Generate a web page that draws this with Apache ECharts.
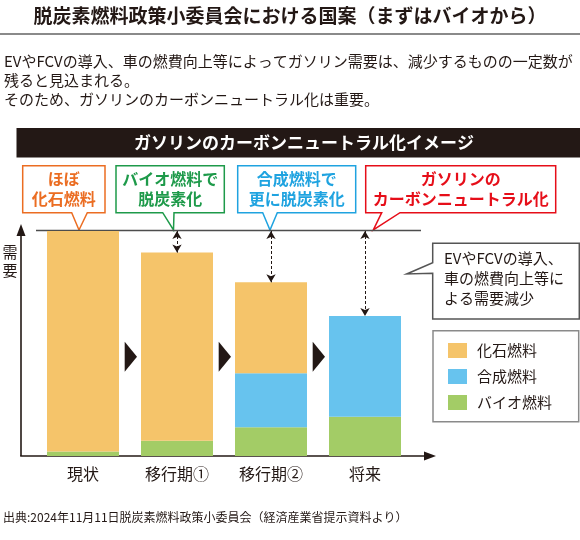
<!DOCTYPE html>
<html>
<head>
<meta charset="utf-8">
<script src="https://cdn.jsdelivr.net/npm/echarts@6/dist/echarts.min.js"></script>
<style>html,body{margin:0;padding:0;background:#fff;}#c{width:580px;height:540px;}</style>
</head>
<body>
<div id="c"></div>
<script>
const categories = ['現状', '移行期①', '移行期②', '将来'];
const fossil = [98, 83.6, 40.4, 0];
const synthetic = [0, 0, 24, 44.7];
const bio = [2, 6.8, 12.8, 17.5];
const seriesNames = ['化石燃料', '合成燃料', 'バイオ燃料'];
const yMax = 100;

const F = '"Noto Sans CJK JP", "Noto Sans", sans-serif';
const DARK = '#231815';
const totals = categories.map((c, i) => fossil[i] + synthetic[i] + bio[i]);

const chart = echarts.init(document.getElementById('c'));
chart.setOption({
  animation: false,
  grid: { left: 36, top: 231, width: 376, height: 225 },
  xAxis: {
    type: 'category', data: categories,
    axisLine: { show: false }, axisTick: { show: false },
    axisLabel: { fontSize: 16, color: DARK, margin: 10, fontFamily: F }
  },
  yAxis: { type: 'value', min: 0, max: yMax, show: false, splitLine: { show: false } },
  legend: {
    data: seriesNames, orient: 'vertical', left: 448, top: 343, padding: 0,
    itemWidth: 19, itemHeight: 15, itemGap: 11, icon: 'rect', selectedMode: false,
    textStyle: { fontSize: 15, color: DARK, fontFamily: F, padding: [0, 0, 0, 5] }
  },
  series: [
    { name: seriesNames[2], type: 'bar', stack: 'a', data: bio, barWidth: 72, itemStyle: { color: '#a3cc66' } },
    { name: seriesNames[1], type: 'bar', stack: 'a', data: synthetic, barWidth: 72, itemStyle: { color: '#67c3ee' } },
    { name: seriesNames[0], type: 'bar', stack: 'a', data: fossil, barWidth: 72, itemStyle: { color: '#f5c46a' },
      markLine: {
        silent: true, symbol: ['arrow', 'arrow'], symbolSize: [7, 8],
        label: { show: false },
        lineStyle: { color: DARK, type: [3, 2], width: 1 },
        data: categories.slice(1).map((c, k) => [
          { coord: [c, yMax] }, { coord: [c, totals[k + 1]] }
        ])
      }
    }
  ]
});

const px = (c, v) => chart.convertToPixel({ gridIndex: 0 }, [c, v]);
const base = px(categories[0], 0)[1];
const topY = px(categories[0], yMax)[1];
const g = [];

function txt(x, y, text, size, color, weight, align) {
  g.push({ type: 'text', silent: true, style: { x: x, y: y, text: text, fontSize: size, fontFamily: F,
    fontWeight: weight || 'normal', fill: color, textAlign: align || 'left', textVerticalAlign: 'middle' } });
}
function callout(x0, y0, x1, y1, bl, br, tx, ty, color, lines) {
  g.push({ type: 'polygon', silent: true,
    shape: { points: [[x0, y0], [x1, y0], [x1, y1], [br, y1], [tx, ty], [bl, y1], [x0, y1]] },
    style: { fill: '#fff', stroke: color, lineWidth: 1.5 } });
  const cx = (x0 + x1) / 2;
  txt(cx, 179, lines[0], 16, color, 'bold', 'center');
  txt(cx, 198.5, lines[1], 16, color, 'bold', 'center');
}

// header
txt(290, 16, '脱炭素燃料政策小委員会における国案（まずはバイオから）', 19, DARK, 'bold', 'center');
g.push({ type: 'line', silent: true, shape: { x1: 0, y1: 34, x2: 580, y2: 34 }, style: { stroke: '#8a8a8a', lineWidth: 2 } });
txt(4, 61, 'EVやFCVの導入、車の燃費向上等によってガソリン需要は、減少するものの一定数が', 15, DARK);
txt(4, 80, '残ると見込まれる。', 15, DARK);
txt(4, 99, 'そのため、ガソリンのカーボンニュートラル化は重要。', 15, DARK);

// banner
g.push({ type: 'rect', silent: true, shape: { x: 16.5, y: 128, width: 564, height: 29.5 }, style: { fill: DARK } });
txt(304, 143, 'ガソリンのカーボンニュートラル化イメージ', 17, '#fff', 'bold', 'center');

// callouts
callout(22.7, 165.7, 105, 212.7, 71.7, 87.3, 79, 230, '#eb6d22', ['ほぼ', '化石燃料']);
callout(116, 165.7, 224.3, 212.7, 162.7, 174, 173.5, 230, '#1e9a4a', ['バイオ燃料で', '脱炭素化']);
callout(237.7, 165.7, 355.7, 212.7, 262.7, 277.3, 270, 230, '#1fa3e0', ['合成燃料で', '更に脱炭素化']);
callout(365.7, 165.7, 555.7, 212.7, 381.7, 400, 373.3, 230, '#e60e19', ['ガソリンの', 'カーボンニュートラル化']);

// top reference line
g.push({ type: 'line', silent: true, shape: { x1: 36, y1: topY - 0.5, x2: 421, y2: topY - 0.5 }, style: { stroke: '#4d4d4d', lineWidth: 1.5 } });

// axes
g.push({ type: 'line', silent: true, shape: { x1: 21, y1: base, x2: 21, y2: 232 }, style: { stroke: DARK, lineWidth: 1.6 } });
g.push({ type: 'polygon', silent: true, shape: { points: [[21, 224], [25.5, 236], [16.5, 236]] }, style: { fill: DARK } });
g.push({ type: 'line', silent: true, shape: { x1: 20.2, y1: base, x2: 428, y2: base }, style: { stroke: DARK, lineWidth: 1.6 } });
g.push({ type: 'polygon', silent: true, shape: { points: [[436, base], [424, base - 4.5], [424, base + 4.5]] }, style: { fill: DARK } });
txt(10, 252, '需', 15, DARK, 'normal', 'center');
txt(10, 270, '要', 15, DARK, 'normal', 'center');

// chevrons between bars
for (let i = 0; i < categories.length - 1; i++) {
  const m = (px(categories[i], 0)[0] + px(categories[i + 1], 0)[0]) / 2;
  g.push({ type: 'polygon', silent: true, shape: { points: [[m - 5.3, 341.7], [m + 7, 356.7], [m - 5.3, 371.7]] }, style: { fill: DARK } });
}

// EV callout
g.push({ type: 'polygon', silent: true,
  shape: { points: [[432.7, 243.3], [579.3, 243.3], [579.3, 319], [432.7, 319], [432.7, 273.3], [406.7, 274], [432.7, 262.7]] },
  style: { fill: '#fff', stroke: '#555', lineWidth: 1.5 } });
txt(444, 258, 'EVやFCVの導入、', 15, DARK);
txt(444, 278, '車の燃費向上等に', 15, DARK);
txt(444, 298, 'よる需要減少', 15, DARK);

// legend box
g.push({ type: 'rect', silent: true, z: -1, shape: { x: 433, y: 330.7, width: 145.7, height: 91 }, style: { fill: 'none', stroke: '#8a8a8a', lineWidth: 1.5 } });

// source
txt(3, 517, '出典:2024年11月11日脱炭素燃料政策小委員会（経済産業省提示資料より）', 12, DARK);

chart.setOption({ graphic: g });
</script>
</body>
</html>
